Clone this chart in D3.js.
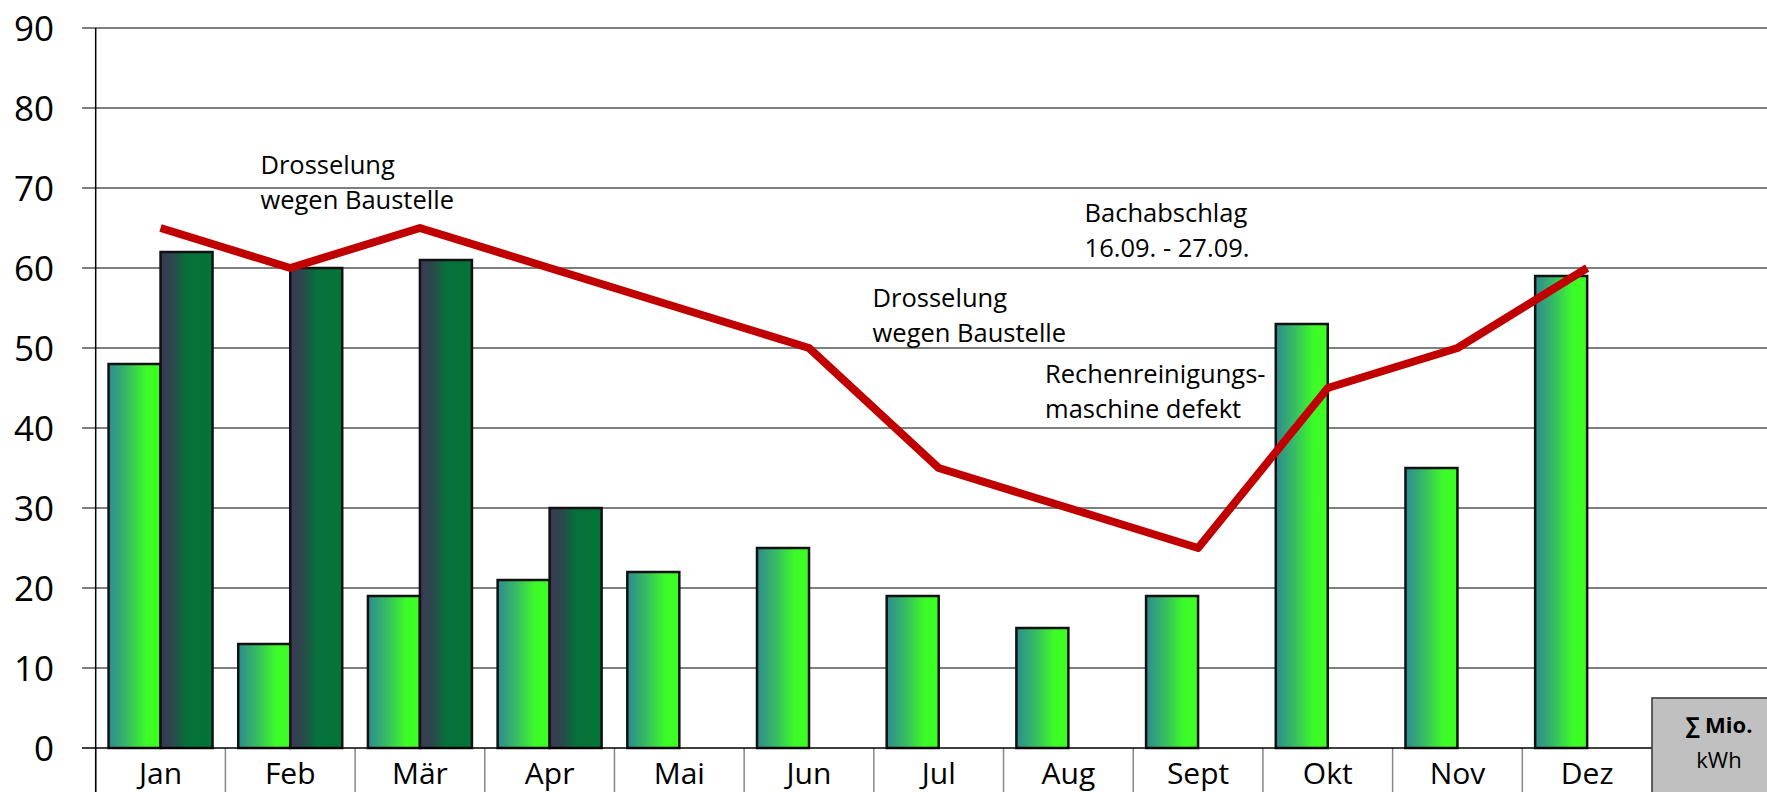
<!DOCTYPE html>
<html>
<head>
<meta charset="utf-8">
<script src="https://cdn.jsdelivr.net/npm/d3@7"></script>
<style>
body{margin:0;background:#fff;}
svg{display:block;font-family:"Open Sans",sans-serif;}
</style>
</head>
<body>
<div id="chart"></div>
<script>
// data
var months = ['Jan','Feb','Mär','Apr','Mai','Jun','Jul','Aug','Sept','Okt','Nov','Dez'];
var barsA = [48,13,19,21,22,25,19,15,19,53,35,59];
var barsB = [62,60,61,30,null,null,null,null,null,null,null,null];
var lineVals = [65,60,65,60,55,50,35,30,25,45,50,60];
var yTicks = [0,10,20,30,40,50,60,70,80,90];
var notes = [
    {month:'Feb', dx:0.27, val:71.8, lines:['Drosselung','wegen Baustelle']},
    {month:'Jul', dx:-0.01, val:55.1, lines:['Drosselung','wegen Baustelle']},
    {month:'Sept', dx:-0.375, val:65.7, lines:['Bachabschlag','16.09. - 27.09.']},
    {month:'Sept', dx:-0.68, val:45.6, lines:['Rechenreinigungs-','maschine defekt']}
];

var width = 1767,
    height = 792,
    plotLeft = 95.7,
    plotRight = 1652,
    plotTop = 28,
    plotBottom = 748;

var svg = d3.select("#chart").append("svg")
    .attr("width", width)
    .attr("height", height);

var defs = svg.append("defs");

// gradient light bars
var gA = defs.append("linearGradient").attr("id","gradA")
    .attr("x1","0").attr("x2","1").attr("y1","0").attr("y2","0");
gA.append("stop").attr("offset","0%").attr("stop-color","#2f8a90");
gA.append("stop").attr("offset","40%").attr("stop-color","#37c25e");
gA.append("stop").attr("offset","72%").attr("stop-color","#3cfb28");
gA.append("stop").attr("offset","100%").attr("stop-color","#3dff22");

// gradient dark bars
var gB = defs.append("linearGradient").attr("id","gradB")
    .attr("x1","0").attr("x2","1").attr("y1","0").attr("y2","0");
gB.append("stop").attr("offset","0%").attr("stop-color","#3c3657");
gB.append("stop").attr("offset","25%").attr("stop-color","#2a4a4a");
gB.append("stop").attr("offset","50%").attr("stop-color","#06703a");
gB.append("stop").attr("offset","100%").attr("stop-color","#037436");

var x = d3.scaleBand().domain(months).range([plotLeft, plotRight]).padding(0);
var sub = d3.scaleBand().domain(['a','b']).range([0, x.bandwidth()]).paddingInner(0).paddingOuter(0.247);
var y = d3.scaleLinear().domain([0,90]).range([plotBottom, plotTop]);

// gridlines
svg.append("g").selectAll("line")
    .data(yTicks.filter(function(d){return d>0;}))
  .enter().append("line")
    .attr("x1", 82).attr("x2", width)
    .attr("y1", function(d){return y(d);})
    .attr("y2", function(d){return y(d);})
    .attr("stroke", "#555")
    .attr("stroke-width", 1.5);

// y tick labels
svg.append("g").selectAll("text")
    .data(yTicks)
  .enter().append("text")
    .attr("x", 54)
    .attr("y", function(d){return y(d);})
    .attr("dy", "0.36em")
    .attr("text-anchor", "end")
    .attr("font-size", "35px")
    .attr("fill", "#000")
    .text(function(d){return d;});

// category separators
svg.append("g").selectAll("line")
    .data(months)
  .enter().append("line")
    .attr("x1", function(d){return x(d);})
    .attr("x2", function(d){return x(d);})
    .attr("y1", plotBottom).attr("y2", height)
    .attr("stroke", "#888")
    .attr("stroke-width", 1.5);

// y axis line
svg.append("line")
    .attr("x1", plotLeft).attr("x2", plotLeft)
    .attr("y1", plotTop).attr("y2", height)
    .attr("stroke", "#000")
    .attr("stroke-width", 1.5);

// x labels
svg.append("g").selectAll("text")
    .data(months)
  .enter().append("text")
    .attr("x", function(d){return x(d) + x.bandwidth()/2;})
    .attr("y", 784)
    .attr("text-anchor", "middle")
    .attr("font-size", "30px")
    .attr("fill", "#000")
    .text(function(d){return d;});

// bars
var barData = [];
months.forEach(function(m,i){
    barData.push({m:m, s:'a', v:barsA[i]});
    if(barsB[i] != null) barData.push({m:m, s:'b', v:barsB[i]});
});
svg.append("g").selectAll("rect")
    .data(barData)
  .enter().append("rect")
    .attr("x", function(d){return x(d.m) + sub(d.s);})
    .attr("y", function(d){return y(d.v);})
    .attr("width", sub.bandwidth())
    .attr("height", function(d){return y(0) - y(d.v);})
    .attr("fill", function(d){return d.s=='a' ? "url(#gradA)" : "url(#gradB)";})
    .attr("stroke", "#111")
    .attr("stroke-width", 2.5);

// zero line
svg.append("line")
    .attr("x1", 82).attr("x2", plotRight)
    .attr("y1", y(0)).attr("y2", y(0))
    .attr("stroke", "#000")
    .attr("stroke-width", 1.5);

// red line
var line = d3.line()
    .x(function(d,i){return x(months[i]) + x.bandwidth()/2;})
    .y(function(d){return y(d);});
svg.append("path")
    .datum(lineVals)
    .attr("d", line)
    .attr("fill", "none")
    .attr("stroke", "#c00000")
    .attr("stroke-width", 8)
    .attr("stroke-linejoin", "round");

// annotations
var ann = svg.append("g").selectAll("text")
    .data(notes)
  .enter().append("text")
    .attr("font-size", "25.5px")
    .attr("fill", "#000")
    .attr("transform", function(d){
        return "translate(" + (x(d.month) + d.dx*x.bandwidth()) + "," + y(d.val) + ")";
    });
ann.selectAll("tspan")
    .data(function(d){return d.lines;})
  .enter().append("tspan")
    .attr("x", 0)
    .attr("dy", function(d,i){return i==0 ? 0 : 35;})
    .text(function(d){return d;});

// unit box
svg.append("rect")
    .attr("x", plotRight).attr("y", 698)
    .attr("width", 140).attr("height", 120)
    .attr("fill", "#c0c0c0")
    .attr("stroke", "#333")
    .attr("stroke-width", 1.5);
svg.append("text")
    .attr("x", 1719).attr("y", 733)
    .attr("text-anchor", "middle")
    .attr("font-size", "22px")
    .attr("font-weight", "bold")
    .text("∑ Mio.");
svg.append("text")
    .attr("x", 1719).attr("y", 768)
    .attr("text-anchor", "middle")
    .attr("font-size", "22px")
    .text("kWh");
</script>
</body>
</html>
